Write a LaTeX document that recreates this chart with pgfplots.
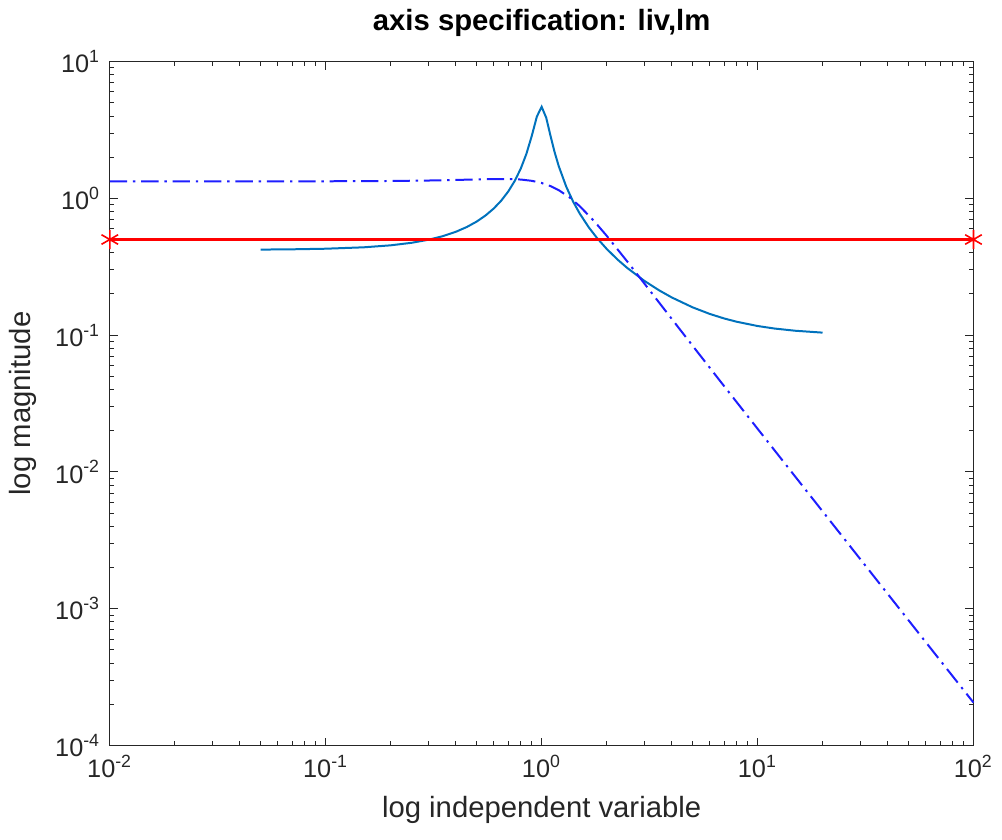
\documentclass[border=0pt]{standalone}
\usepackage{pgfplots}
\pgfplotsset{compat=1.18}
\usepackage{fontspec}
\setmainfont{Liberation Sans}
\definecolor{matblue}{RGB}{0,114,189}
\definecolor{dashblue}{RGB}{30,30,255}
\definecolor{axgray}{RGB}{38,38,38}
\definecolor{matred}{RGB}{255,0,0}
\begin{document}
\begin{tikzpicture}
\begin{loglogaxis}[
  scale only axis, width=324.4pt, height=256.9pt,
  xmin=0.01, xmax=100, ymin=1e-4, ymax=10,
  log basis x=10, log basis y=10,
  clip=false,
  axis line style={axgray, line width=0.4pt},
  every tick/.style={axgray, line width=0.35pt},
  major tick length=3pt, minor tick length=1.7pt,
  tick align=inside,
  xtick pos=both, ytick pos=both,
  xticklabel pos=left, yticklabel pos=left,
  xtick={0.01,0.1,1,10,100},
  minor xtick={0.02,0.03,0.04,0.05,0.06,0.07,0.08,0.09,0.2,0.3,0.4,0.5,0.6,0.7,0.8,0.9,2,3,4,5,6,7,8,9,20,30,40,50,60,70,80,90},
  xticklabels={10\textsuperscript{-2},10\textsuperscript{-1},10\textsuperscript{0},10\textsuperscript{1},10\textsuperscript{2}},
  ytick={1e-4,1e-3,1e-2,1e-1,1,10},
  minor ytick={0.0002,0.0003,0.0004,0.0005,0.0006,0.0007,0.0008,0.0009,0.002,0.003,0.004,0.005,0.006,0.007,0.008,0.009,0.02,0.03,0.04,0.05,0.06,0.07,0.08,0.09,0.2,0.3,0.4,0.5,0.6,0.7,0.8,0.9,2,3,4,5,6,7,8,9},
  yticklabels={10\textsuperscript{-4},10\textsuperscript{-3},10\textsuperscript{-2},10\textsuperscript{-1},10\textsuperscript{0},10\textsuperscript{1}},
  ticklabel style={font=\fontsize{9.5}{11}\selectfont, text=axgray},
  label style={font=\fontsize{11}{13}\selectfont, text=axgray},
  xlabel={log independent variable},
  ylabel={log magnitude},
  title={\textbf{axis specification: liv,lm}},
  title style={font=\fontsize{11}{13}\selectfont, text=black},
]
\addplot[draw=matblue, line width=0.75pt] coordinates {
(0.05,0.4220) (0.07,0.4240) (0.1,0.4282) (0.15,0.4385) (0.2,0.4534)
(0.25,0.4732) (0.3,0.4985) (0.35,0.5300) (0.4,0.5689) (0.45,0.6169)
(0.5,0.6760) (0.55,0.7497) (0.6,0.8426) (0.65,0.9622) (0.7,1.1203)
(0.75,1.3366) (0.8,1.6462) (0.85,2.1142) (0.9,2.856) (0.95,3.955)
(1.0,4.672) (1.05,3.887) (1.1,2.851) (1.15,2.160) (1.2,1.7201)
(1.3,1.2169) (1.4,0.9445) (1.5,0.7755) (1.65,0.6164) (1.8,0.5155)
(2.0,0.4273) (2.25,0.3561) (2.5,0.3084) (3,0.2485) (3.5,0.2126)
(4,0.1888) (5,0.1597) (6,0.1430) (7,0.1324) (8,0.1253)
(10,0.1166) (12,0.1117) (15,0.1076) (20,0.1043)
};
\addplot[draw=dashblue, line width=0.75pt, dash pattern=on 6.5pt off 2.2pt on 0.9pt off 2.2pt] coordinates {
(0.01,1.3300) (0.03,1.3302) (0.1,1.3324) (0.2,1.3393) (0.3,1.3498)
(0.4,1.3625) (0.5,1.3750) (0.6,1.3837) (0.7,1.3844) (0.8,1.3723)
(0.9,1.3431) (1.0,1.2947) (1.1,1.2281) (1.2,1.1474) (1.35,1.0125)
(1.5,0.8777) (1.75,0.6821) (2,0.5332) (2.5,0.3432) (3,0.2370)
(4,0.13175) (5,0.08371) (7,0.04240) (10,0.02069) (15,0.009174)
(20,0.005156) (30,0.002290) (50,0.0008242) (70,0.0004205) (100,0.0002060)
};
\addplot[draw=matred, line width=0.85pt, mark=none] coordinates {
(0.01,0.5) (100,0.5)
};
\addplot[only marks, mark=asterisk, mark size=3.6pt, mark options={draw=matred, color=matred, solid, line width=0.6pt}] coordinates {
(0.01,0.5) (100,0.5)
};
\end{loglogaxis}
\path ([xshift=-41.25pt,yshift=-35.25pt]current axis.south west) rectangle ([xshift=10.1pt,yshift=17.25pt]current axis.north east);
\end{tikzpicture}
\end{document}
